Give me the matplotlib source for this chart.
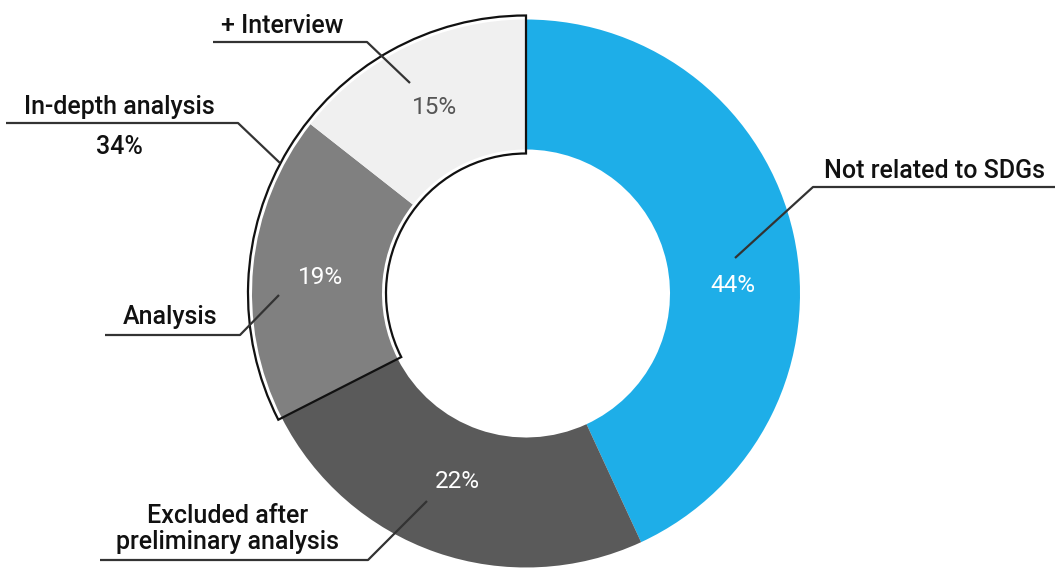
import matplotlib
matplotlib.use("Agg")
import matplotlib.pyplot as plt
from matplotlib.patches import Wedge

plt.rcParams['font.family'] = ['Roboto', 'DejaVu Sans']

# ---- data ----
categories = ["Not related to SDGs", "Excluded after\npreliminary analysis", "Analysis", "+ Interview"]
shares = [43.1, 24.4, 18.1, 14.4]          # slice sizes as drawn
pct_labels = ["44%", "22%", "19%", "15%"]   # printed labels
group_label = "In-depth analysis"
group_pct = "34%"

colors = ["#1eaee8", "#5a5a5a", "#808080", "#f0f0f0"]
pct_colors = ["white", "white", "white", "#555555"]

W, H = 1055, 568
fig = plt.figure(figsize=(W / 100, H / 100), dpi=100)
ax = fig.add_axes([0, 0, 1, 1])

def Y(py):
    return H - py

cx, cy = 526, Y(293.5)
R, r_in = 274, 144

ax.pie(shares, colors=colors, startangle=90, counterclock=False,
       radius=R, center=(cx, cy),
       wedgeprops=dict(width=R - r_in, linewidth=0))
ax.set_xlim(0, W)
ax.set_ylim(0, H)
ax.set_aspect('equal')
ax.axis('off')

# outline around in-depth analysis group (Analysis + Interview)
grp_frac = (shares[2] + shares[3]) / sum(shares)
ax.add_patch(Wedge((cx, cy), R + 4, 90, 90 + 360 * grp_frac,
                   width=(R + 4) - (r_in - 4), fill=False,
                   ec='#111111', lw=1.6, zorder=5))

# percentage labels in the ring
pct_pos = [(733, 286), (457, 481), (321, 278), (435, 107)]
for (px, py), t, c in zip(pct_pos, pct_labels, pct_colors):
    ax.text(px, Y(py), t, color=c, fontsize=17.5, fontweight='normal',
            ha='center', va='center', zorder=6)

line_kw = dict(color='#333333', lw=1.6, zorder=7, solid_capstyle='butt')
txt_kw = dict(color='#111111', fontsize=18, fontweight='medium', zorder=8)

# Not related to SDGs
ax.plot([1055, 813, 735], [Y(187), Y(187), Y(258)], **line_kw)
ax.text(935, Y(178), categories[0], ha='center', va='baseline', **txt_kw)

# + Interview
ax.plot([213, 367, 410], [Y(42), Y(42), Y(83)], **line_kw)
ax.text(282, Y(33), categories[3], ha='center', va='baseline', **txt_kw)

# In-depth analysis 34%
ax.plot([6, 238, 280], [Y(123), Y(123), Y(163)], **line_kw)
ax.text(119, Y(114), group_label, ha='center', va='baseline', **txt_kw)
ax.text(119, Y(147), group_pct, ha='center', va='center', **txt_kw)

# Analysis
ax.plot([105, 240, 279], [Y(335), Y(335), Y(295)], **line_kw)
ax.text(170, Y(324), categories[2], ha='center', va='baseline', **txt_kw)

# Excluded after preliminary analysis
ax.plot([100, 368, 427], [Y(560), Y(560), Y(501)], **line_kw)
ax.text(228, Y(549), categories[1], ha='center', va='baseline',
        linespacing=1.1, **txt_kw)

fig.savefig('out.png', dpi=100)
